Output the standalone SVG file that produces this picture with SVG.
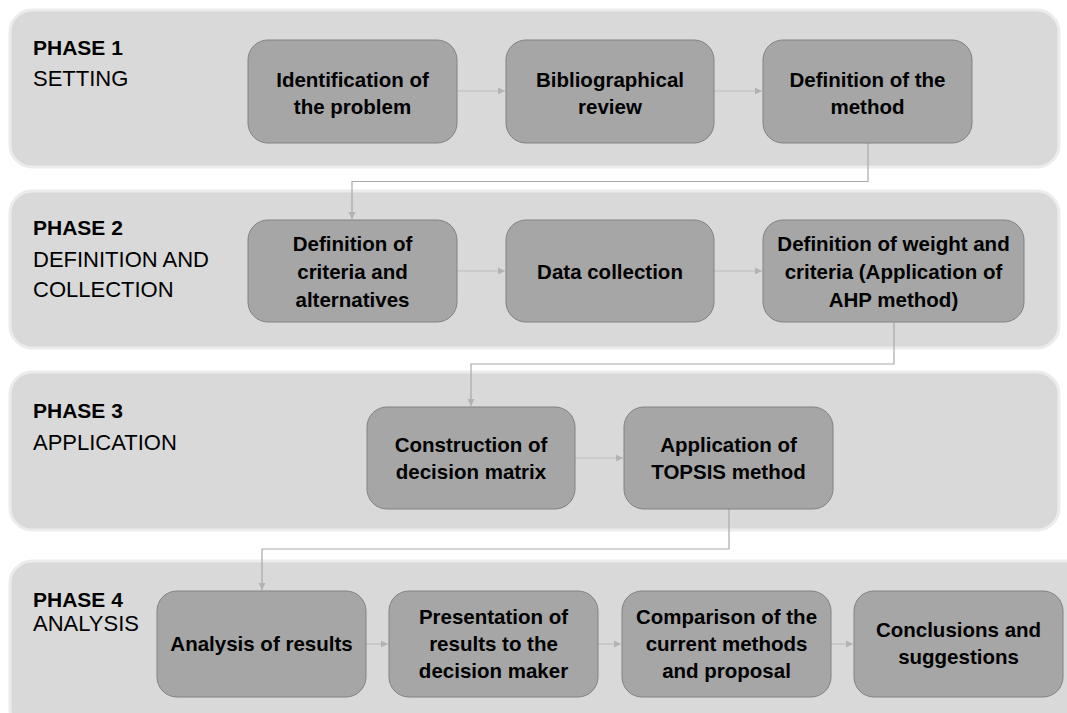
<svg xmlns="http://www.w3.org/2000/svg" width="1067" height="713" viewBox="0 0 1067 713">
<defs>
<style>
.panel{fill:#d9d9d9;stroke:#ececec;stroke-width:3}
.box{fill:#a6a6a6;stroke:#828282;stroke-width:1}
.bt{font-family:"Liberation Sans",Arial,sans-serif;font-weight:bold;font-size:20.5px;fill:#000000;text-anchor:middle}
.ph{font-family:"Liberation Sans",Arial,sans-serif;font-size:22px;fill:#000000}
.phb{font-weight:bold;font-size:21px}
.elb{fill:none;stroke:#a9a9a9;stroke-width:1.2}
.arr{fill:none;stroke:#bdbdbd;stroke-width:1.2}
</style>
<marker id="ah" markerWidth="8" markerHeight="8" refX="7" refY="4" orient="auto" markerUnits="userSpaceOnUse">
<path d="M0,0.5 L7,4 L0,7.5 Z" fill="#b3b3b3"/>
</marker>
</defs>
<rect width="1067" height="713" fill="#ffffff"/>
<g id="panels">
<rect id="panel1" class="panel" x="10" y="10" width="1049" height="157" rx="22"/>
<rect id="panel2" class="panel" x="10" y="191" width="1049" height="157" rx="22"/>
<rect id="panel3" class="panel" x="10" y="372" width="1049" height="158" rx="22"/>
<rect id="panel4" class="panel" x="10" y="561" width="1080" height="170" rx="22"/>
</g>
<g id="phase-labels">
<g id="phase1-label"><text class="ph phb" x="33" y="55">PHASE 1</text><text class="ph" x="33" y="86">SETTING</text></g>
<g id="phase2-label"><text class="ph phb" x="33" y="235">PHASE 2</text><text class="ph" x="33" y="267">DEFINITION AND</text><text class="ph" x="33" y="297">COLLECTION</text></g>
<g id="phase3-label"><text class="ph phb" x="33" y="418">PHASE 3</text><text class="ph" x="33" y="450">APPLICATION</text></g>
<g id="phase4-label"><text class="ph phb" x="33" y="607">PHASE 4</text><text class="ph" x="33" y="631">ANALYSIS</text></g>
</g>
<g id="connectors">
<line class="arr" x1="457" y1="91" x2="505" y2="91" marker-end="url(#ah)"/>
<line class="arr" x1="714" y1="91" x2="762" y2="91" marker-end="url(#ah)"/>
<line class="arr" x1="457" y1="271" x2="505" y2="271" marker-end="url(#ah)"/>
<line class="arr" x1="714" y1="271" x2="762" y2="271" marker-end="url(#ah)"/>
<line class="arr" x1="575" y1="458" x2="623" y2="458" marker-end="url(#ah)"/>
<line class="arr" x1="366" y1="644" x2="388" y2="644" marker-end="url(#ah)"/>
<line class="arr" x1="598" y1="644" x2="621" y2="644" marker-end="url(#ah)"/>
<line class="arr" x1="831" y1="644" x2="853" y2="644" marker-end="url(#ah)"/>
<path class="elb" d="M868,143 V181.5 H352 V219" marker-end="url(#ah)"/>
<path class="elb" d="M894,322 V364 H471 V406" marker-end="url(#ah)"/>
<path class="elb" d="M729,509 V549 H262 V590" marker-end="url(#ah)"/>
</g>
<g id="n1"><rect class="box" x="248" y="40" width="209" height="103" rx="20"/><text class="bt" x="352.5" y="87">Identification of</text><text class="bt" x="352.5" y="114">the problem</text></g>
<g id="n2"><rect class="box" x="506" y="40" width="208" height="103" rx="20"/><text class="bt" x="610" y="87">Bibliographical</text><text class="bt" x="610" y="114">review</text></g>
<g id="n3"><rect class="box" x="763" y="40" width="209" height="103" rx="20"/><text class="bt" x="867.5" y="87">Definition of the</text><text class="bt" x="867.5" y="114">method</text></g>
<g id="n4"><rect class="box" x="248" y="220" width="209" height="102" rx="20"/><text class="bt" x="352.5" y="251">Definition of</text><text class="bt" x="352.5" y="279">criteria and</text><text class="bt" x="352.5" y="307">alternatives</text></g>
<g id="n5"><rect class="box" x="506" y="220" width="208" height="102" rx="20"/><text class="bt" x="610" y="279">Data collection</text></g>
<g id="n6"><rect class="box" x="763" y="220" width="261" height="102" rx="20"/><text class="bt" x="893.5" y="251">Definition of weight and</text><text class="bt" x="893.5" y="279">criteria (Application of</text><text class="bt" x="893.5" y="307">AHP method)</text></g>
<g id="n7"><rect class="box" x="367" y="407" width="208" height="102" rx="20"/><text class="bt" x="471" y="452">Construction of</text><text class="bt" x="471" y="479">decision matrix</text></g>
<g id="n8"><rect class="box" x="624" y="407" width="209" height="102" rx="20"/><text class="bt" x="728.5" y="452">Application of</text><text class="bt" x="728.5" y="479">TOPSIS method</text></g>
<g id="n9"><rect class="box" x="157" y="591" width="209" height="106" rx="20"/><text class="bt" x="261.5" y="651">Analysis of results</text></g>
<g id="n10"><rect class="box" x="389" y="591" width="209" height="106" rx="20"/><text class="bt" x="493.5" y="624">Presentation of</text><text class="bt" x="493.5" y="651">results to the</text><text class="bt" x="493.5" y="678">decision maker</text></g>
<g id="n11"><rect class="box" x="622" y="591" width="209" height="106" rx="20"/><text class="bt" x="726.5" y="624">Comparison of the</text><text class="bt" x="726.5" y="651">current methods</text><text class="bt" x="726.5" y="678">and proposal</text></g>
<g id="n12"><rect class="box" x="854" y="591" width="209" height="106" rx="20"/><text class="bt" x="958.5" y="637">Conclusions and</text><text class="bt" x="958.5" y="664">suggestions</text></g>
</svg>
